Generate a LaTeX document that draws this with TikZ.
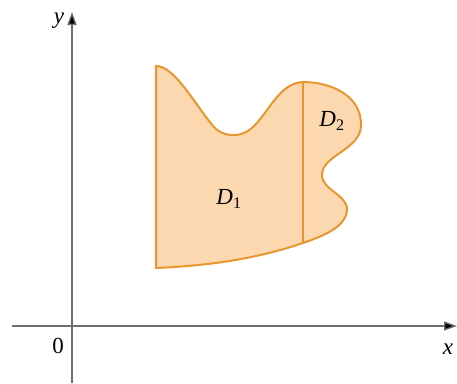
\documentclass[tikz,border=0pt]{standalone}
\usepackage{fontspec}
\setmainfont{Liberation Serif}
\usetikzlibrary{arrows.meta}
\definecolor{regfill}{RGB}{252,216,176}
\definecolor{regline}{RGB}{232,150,45}
\definecolor{axisgray}{RGB}{110,110,110}
\begin{document}
\begin{tikzpicture}[x=1pt,y=-1pt,
  axis/.style={draw=axisgray,line width=1.3pt,-{Triangle[length=13pt,width=9pt,fill=black]}},
  lbl/.style={font=\fontsize{23}{26}\selectfont\itshape,inner sep=0pt},
  boundary/.style={draw=regline,line width=2pt,fill=regfill,line join=round}]
\useasboundingbox (0,0) rectangle (457,383);
\coordinate (yb) at (72,383);
\coordinate (yt) at (72,12);
\coordinate (xl) at (12,326);
\coordinate (xr) at (457,326);
\draw[axis] (yb) -- (yt);
\draw[axis] (xl) -- (xr);
\node[lbl] (ylab) at (59,21) {y};
\node[lbl] (xlab) at (448,349) {x};
\node[lbl,font=\fontsize{23}{26}\selectfont] (zero) at (58,346) {0};
\coordinate (tl) at (156,66);
\coordinate (bl) at (156,268);
\coordinate (dt) at (303,82);
\coordinate (db) at (303,243);
\path[boundary] (bl) -- (tl)
  .. controls (175,66) and (195,105) .. (214,127)
  .. controls (222,136) and (240,140) .. (254,126)
  .. controls (270,110) and (280,83) .. (dt)
  .. controls (330,82) and (362,95) .. (361,126)
  .. controls (360,150) and (322,155) .. (322,175)
  .. controls (322,190) and (348,195) .. (347,210)
  .. controls (346,228) and (320,237) .. (db)
  .. controls (250,261) and (200,266) .. (bl) -- cycle;
\draw[regline,line width=2pt] (dt) -- (db);
\node[lbl] (d1) at (229,199) {D\textsubscript{\upshape 1}};
\node[lbl] (d2) at (332,121) {D\textsubscript{\upshape 2}};
\end{tikzpicture}
\end{document}
